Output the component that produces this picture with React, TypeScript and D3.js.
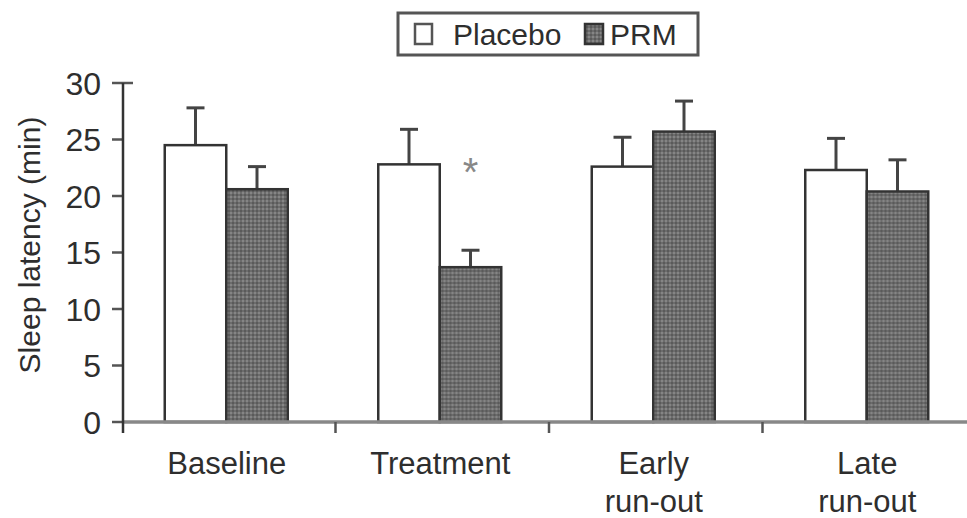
import React from "react";
import * as d3 from "d3";

const categories = ["Baseline", "Treatment", "Early\nrun-out", "Late\nrun-out"];
const seriesNames = ["Placebo", "PRM"];
const placeboMeans = [24.5, 22.8, 22.6, 22.3];
const placeboErr = [3.3, 3.1, 2.6, 2.8];
const prmMeans = [20.6, 13.7, 25.7, 20.4];
const prmErr = [2.0, 1.5, 2.7, 2.8];
const yTicks = [0, 5, 10, 15, 20, 25, 30];
const significant = [false, true, false, false];

const W = 967;
const H = 518;
const FONT = "'Liberation Sans', Arial, Helvetica, sans-serif";
const TEXT = "#2e2e2e";
const EDGE = "#333";

export default function App() {
  const y = d3.scaleLinear().domain([0, 30]).range([422, 83]);
  const x0 = d3.scaleBand<string>().domain(categories).range([122, 976]).padding(0);
  const groupW = 123;
  const inset = (x0.bandwidth() - groupW) / 2 - 2.5;
  const x1 = d3
    .scaleBand<string>()
    .domain(seriesNames)
    .range([inset, inset + groupW])
    .padding(0);

  const rows = categories.map((c, i) => ({
    c,
    vals: [
      { s: "Placebo", m: placeboMeans[i], e: placeboErr[i] },
      { s: "PRM", m: prmMeans[i], e: prmErr[i] },
    ],
    sig: significant[i],
  }));

  const fillFor = (s: string) => (s === "PRM" ? "url(#prmDots)" : "#fff");

  return (
    <svg
      width={W}
      height={H}
      viewBox={`0 0 ${W} ${H}`}
      style={{ position: "absolute", left: 0, top: 0, background: "#fff" }}
    >
      <defs>
        <pattern id="prmDots" width="4" height="4" patternUnits="userSpaceOnUse">
          <rect width="4" height="4" fill="#6c6c6c" />
          <rect x="0" y="0" width="2" height="2" fill="#858585" />
          <rect x="2" y="2" width="2" height="2" fill="#5a5a5a" />
        </pattern>
      </defs>

      {/* legend */}
      <g>
        <rect x={398} y={13} width={300} height={42} fill="#fff" stroke="#555" strokeWidth={3} />
        <rect x={415} y={24} width={17} height={20} fill="#fff" stroke="#555" strokeWidth={2.5} />
        <text x={453} y={45} fontFamily={FONT} fontSize={30} fill={TEXT}>
          Placebo
        </text>
        <rect x={585} y={24} width={18} height={20} fill="url(#prmDots)" stroke={EDGE} strokeWidth={2.5} />
        <text x={610} y={45} fontFamily={FONT} fontSize={30} fill={TEXT}>
          PRM
        </text>
      </g>

      {/* y axis */}
      <text
        transform={`translate(40,245) rotate(-90)`}
        textAnchor="middle"
        fontFamily={FONT}
        fontSize={30}
        fill={TEXT}
      >
        Sleep latency (min)
      </text>
      {yTicks.map((t) => (
        <g key={t}>
          <line x1={112} x2={t === 30 ? 133 : 123} y1={y(t)} y2={y(t)} stroke="#555" strokeWidth={2.5} />
          <text
            x={101}
            y={y(t)}
            dy="0.36em"
            textAnchor="end"
            fontFamily={FONT}
            fontSize={32}
            fill={TEXT}
          >
            {t}
          </text>
        </g>
      ))}

      {/* bars */}
      {rows.map((r) => (
        <g key={r.c} transform={`translate(${x0(r.c)},0)`}>
          {r.vals.map((v) => {
            const bx = x1(v.s)!;
            const bw = x1.bandwidth();
            const cx = bx + bw / 2;
            return (
              <g key={v.s}>
                <line x1={cx} x2={cx} y1={y(v.m)} y2={y(v.m + v.e)} stroke="#444" strokeWidth={3} />
                <line x1={cx - 9} x2={cx + 9} y1={y(v.m + v.e)} y2={y(v.m + v.e)} stroke="#444" strokeWidth={3} />
                <rect
                  x={bx}
                  y={y(v.m)}
                  width={bw}
                  height={y(0) - y(v.m)}
                  fill={fillFor(v.s)}
                  stroke={EDGE}
                  strokeWidth={2.5}
                />
              </g>
            );
          })}
          {r.sig && (
            <text
              x={x1("PRM")! + x1.bandwidth() / 2}
              y={y(prmMeans[1] + prmErr[1]) - 64}
              textAnchor="middle"
              fontFamily={FONT}
              fontSize={40}
              fill="#888"
            >
              *
            </text>
          )}
        </g>
      ))}

      {/* x axis */}
      <line x1={122} x2={W} y1={y(0)} y2={y(0)} stroke="#888" strokeWidth={3.5} />
      <line x1={123} x2={123} y1={83} y2={433} stroke="#333" strokeWidth={2.5} />
      {categories.slice(1).map((c) => (
        <line key={c} x1={x0(c)} x2={x0(c)} y1={y(0)} y2={433} stroke="#555" strokeWidth={2.5} />
      ))}
      {categories.map((c) => {
        const cx = x0(c)! + x0.bandwidth() / 2 - 2;
        return (
          <text key={c} x={cx} y={474} textAnchor="middle" fontFamily={FONT} fontSize={31} fill={TEXT}>
            {c.split("\n").map((ln, i) => (
              <tspan key={i} x={cx} dy={i === 0 ? 0 : 38}>
                {ln}
              </tspan>
            ))}
          </text>
        );
      })}
    </svg>
  );
}
